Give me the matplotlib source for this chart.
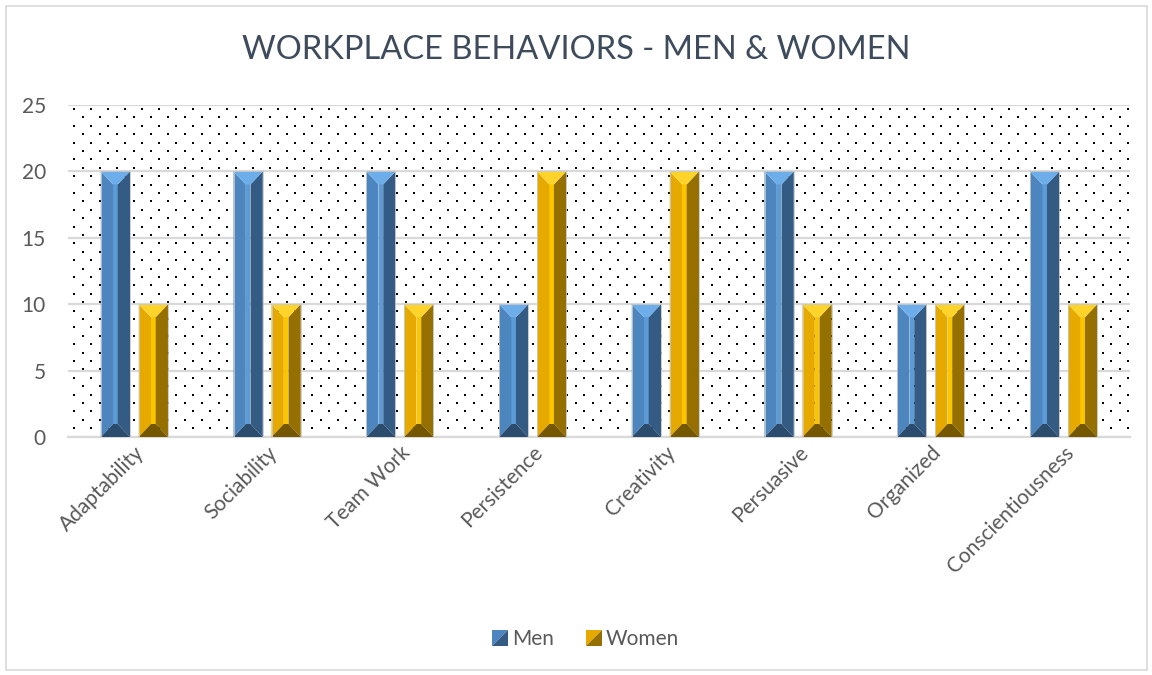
import numpy as np
import matplotlib
matplotlib.use("Agg")
import matplotlib.pyplot as plt
from matplotlib.patches import Polygon, Rectangle
from matplotlib.legend_handler import HandlerBase

plt.rcParams["font.family"] = ["Lato", "DejaVu Sans"]

categories = ["Adaptability", "Sociability", "Team Work", "Persistence",
              "Creativity", "Persuasive", "Organized", "Conscientiousness"]
men = [20, 20, 20, 10, 10, 20, 10, 20]
women = [10, 10, 10, 20, 20, 10, 10, 10]

# face colours: top, left, front, right, bottom
BLUE = ["#6cadea", "#4d86bf", "#5c9bd6", "#335b84", "#2c4c6e"]
GOLD = ["#ffd42a", "#e6a900", "#fbc500", "#957000", "#755700"]

W, H = 1152, 675
fig = plt.figure(figsize=(W / 100, H / 100), dpi=100)
ax = fig.add_axes([68 / W, 1 - 437 / H, (1130 - 68) / W, (437 - 105) / H])

YMAX = 25
ax.set_xlim(-0.5, len(categories) - 0.5)
ax.set_ylim(0, YMAX)

ax_w_px = (1130 - 68)
ax_h_px = (437 - 105)

# dotted background
sx, sy = 17.0, 8.4
rows = np.arange(4, ax_h_px, sy)
px, py = [], []
for i, r in enumerate(rows):
    off = 6 if i % 2 == 0 else 6 + sx / 2
    cols = np.arange(off, ax_w_px, sx)
    px.extend(cols)
    py.extend([ax_h_px - r] * len(cols))
ax.scatter(np.array(px) / ax_w_px, np.array(py) / ax_h_px, s=2.2, marker="s",
           color="black", linewidths=0, transform=ax.transAxes, zorder=0)

ax.set_yticks(range(0, YMAX + 1, 5))
ax.grid(axis="y", color="#d9d9d9", linewidth=1.6, zorder=1)
ax.set_axisbelow(True)
for s in ["top", "right", "left"]:
    ax.spines[s].set_visible(False)
ax.spines["bottom"].set_color("#d9d9d9")
ax.spines["bottom"].set_linewidth(1.6)
ax.tick_params(length=0)
ax.tick_params(axis="y", labelsize=15, labelcolor="#595959", pad=16)
ax.tick_params(axis="x", labelsize=15, labelcolor="#595959", pad=4)
ax.set_xticks(range(len(categories)))
ax.set_xticklabels(categories, rotation=45, ha="right", rotation_mode="anchor")

bar_w = 0.22
offset = 0.143
unit_px = ax_h_px / YMAX
bh = 13 / unit_px


def bevel_bar(x_center, h, cols):
    x0, x1 = x_center - bar_w / 2, x_center + bar_w / 2
    bw = bar_w * 0.42
    y0, y1 = 0, h
    top, left, front, right, bottom = cols
    faces = [
        ([(x0, y0), (x0 + bw, y0 + bh), (x0 + bw, y1 - bh), (x0, y1)], left),
        ([(x1, y0), (x1 - bw, y0 + bh), (x1 - bw, y1 - bh), (x1, y1)], right),
        ([(x0, y1), (x1, y1), (x1 - bw, y1 - bh), (x0 + bw, y1 - bh)], top),
        ([(x0, y0), (x1, y0), (x1 - bw, y0 + bh), (x0 + bw, y0 + bh)], bottom),
    ]
    ax.add_patch(Rectangle((x0 + bw, y0 + bh), x1 - x0 - 2 * bw, y1 - y0 - 2 * bh,
                           facecolor=front, edgecolor="none", zorder=3))
    for pts, c in faces:
        ax.add_patch(Polygon(pts, closed=True, facecolor=c, edgecolor="none", zorder=3))
    ax.add_patch(Rectangle((x0, y0), bar_w, h, facecolor="none",
                           edgecolor="#c8c8c8", linewidth=0.6, zorder=4))


for i in range(len(categories)):
    bevel_bar(i - offset, men[i], BLUE)
    bevel_bar(i + offset, women[i], GOLD)

fig.text(0.5, 1 - 50 / H, "WORKPLACE BEHAVIORS - MEN & WOMEN", ha="center",
         va="center", fontsize=23.5, color="#3d4b5c")


class BevelSquare(HandlerBase):
    def __init__(self, cols):
        super().__init__()
        self.cols = cols

    def create_artists(self, legend, orig_handle, xdescent, ydescent,
                       width, height, fontsize, trans):
        s = height * 1.1
        x0 = -xdescent + width - s
        y0 = -ydescent + (height - s) / 2
        light = Polygon([(x0, y0), (x0, y0 + s), (x0 + s, y0 + s)],
                        facecolor=self.cols[1], edgecolor="none", transform=trans)
        dark = Polygon([(x0, y0), (x0 + s, y0), (x0 + s, y0 + s)],
                       facecolor=self.cols[3], edgecolor="none", transform=trans)
        return [light, dark]


h_men = Rectangle((0, 0), 1, 1)
h_women = Rectangle((0, 0), 1, 1)
fig.legend([h_men, h_women], ["Men", "Women"], loc="center",
           bbox_to_anchor=(0.508, 1 - 639 / H), ncol=2, frameon=False,
           fontsize=15, labelcolor="#595959", handlelength=0.8,
           handletextpad=0.2, columnspacing=1.5,
           handler_map={h_men: BevelSquare(BLUE), h_women: BevelSquare(GOLD)})

fig.add_artist(Rectangle((6 / W, 5 / H), (1147 - 6) / W, (669 - 5) / H,
                         transform=fig.transFigure, facecolor="none",
                         edgecolor="#d9d9d9", linewidth=1.2))

fig.savefig("out.png", dpi=100)
